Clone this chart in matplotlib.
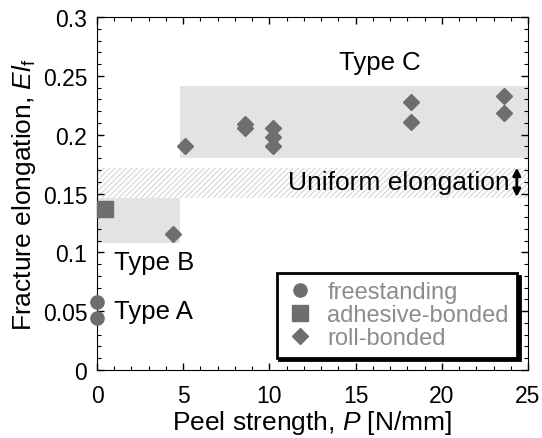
import matplotlib
matplotlib.use("Agg")
import matplotlib.pyplot as plt
from matplotlib.patches import Rectangle
from matplotlib.ticker import MultipleLocator

plt.rcParams['font.family'] = ['Liberation Sans', 'DejaVu Sans']
plt.rcParams['mathtext.fontset'] = 'custom'
plt.rcParams['mathtext.rm'] = 'Liberation Sans'
plt.rcParams['mathtext.it'] = 'Liberation Sans:italic'

# Data
free_P = [0.0, 0.0]
free_E = [0.058, 0.044]
adh_P = [0.45]
adh_E = [0.137]
roll_P = [4.4, 5.1, 8.6, 8.6, 10.2, 10.2, 10.2, 18.2, 18.2, 23.6, 23.6]
roll_E = [0.116, 0.190, 0.206, 0.209, 0.206, 0.198, 0.190, 0.228, 0.211, 0.233, 0.218]

# Regions (x0, x1, y0, y1)
typeC = (4.8, 25.0, 0.180, 0.241)
uniform = (0.0, 25.0, 0.146, 0.172)
typeB = (0.0, 4.8, 0.108, 0.146)

fig = plt.figure(figsize=(5.42, 4.39), dpi=100)
ax = fig.add_axes([97/542, 1-371/439, (528-97)/542, (371-18)/439])

ax.add_patch(Rectangle((typeC[0], typeC[2]), typeC[1]-typeC[0], typeC[3]-typeC[2],
                       facecolor='#e3e3e3', edgecolor='none', zorder=0))
ax.add_patch(Rectangle((typeB[0], typeB[2]), typeB[1]-typeB[0], typeB[3]-typeB[2],
                       facecolor='#e3e3e3', edgecolor='none', zorder=0))
plt.rcParams['hatch.linewidth'] = 0.8
ax.add_patch(Rectangle((uniform[0], uniform[2]), uniform[1]-uniform[0], uniform[3]-uniform[2],
                       facecolor='white', edgecolor='#d4d4d4', hatch='//////', linewidth=0, zorder=0))

mc = '#6e6e6e'
ax.plot(free_P, free_E, 'o', color=mc, markersize=9.5, clip_on=False, label='freestanding', zorder=3)
ax.plot(adh_P, adh_E, 's', color=mc, markersize=12, clip_on=False, label='adhesive-bonded', zorder=3)
ax.plot(roll_P, roll_E, 'D', color=mc, markersize=8.5, clip_on=False, label='roll-bonded', zorder=3)

ax.text(16.4, 0.262, 'Type C', fontsize=18.5, ha='center', va='center')
ax.text(23.95, 0.160, 'Uniform elongation', fontsize=19, ha='right', va='center')
ax.text(1.0, 0.092, 'Type B', fontsize=18.5, ha='left', va='center')
ax.text(1.0, 0.050, 'Type A', fontsize=18.5, ha='left', va='center')
ax.annotate('', xy=(24.35, 0.147), xytext=(24.35, 0.172),
            arrowprops=dict(arrowstyle='<|-|>', color='black', lw=2, mutation_scale=11,
                            shrinkA=0, shrinkB=0))

ax.set_xlim(0, 25)
ax.set_ylim(0, 0.3)
ax.xaxis.set_major_locator(MultipleLocator(5))
ax.xaxis.set_minor_locator(MultipleLocator(1))
ax.yaxis.set_minor_locator(MultipleLocator(0.01))
ax.set_yticks([0, 0.05, 0.1, 0.15, 0.2, 0.25, 0.3])
ax.set_yticklabels(['0', '0.05', '0.1', '0.15', '0.2', '0.25', '0.3'])
ax.tick_params(which='both', direction='in', top=True, right=True, labelsize=16.5)
ax.tick_params(which='major', length=5, width=1)
ax.tick_params(which='minor', length=3, width=0.8)
ax.tick_params(axis='x', pad=10)
ax.tick_params(axis='y', pad=7)
ax.set_xlabel('Peel strength, $P$ [N/mm]', fontsize=19, labelpad=1)
ax.set_ylabel('Fracture elongation, $El_\\mathrm{f}$', fontsize=19, labelpad=3)

leg = ax.legend(loc='lower right', bbox_to_anchor=(0.975, 0.035), borderaxespad=0,
                fontsize=17, frameon=True, fancybox=False, handletextpad=0.5,
                borderpad=0.35, labelspacing=0.05, handlelength=1.3,
                shadow={'color': 'black', 'alpha': 1})
leg.get_frame().set_edgecolor('black')
leg.get_frame().set_linewidth(2)
for t in leg.get_texts():
    t.set_color('#8c8c8c')

fig.savefig('out.png', dpi=100)
